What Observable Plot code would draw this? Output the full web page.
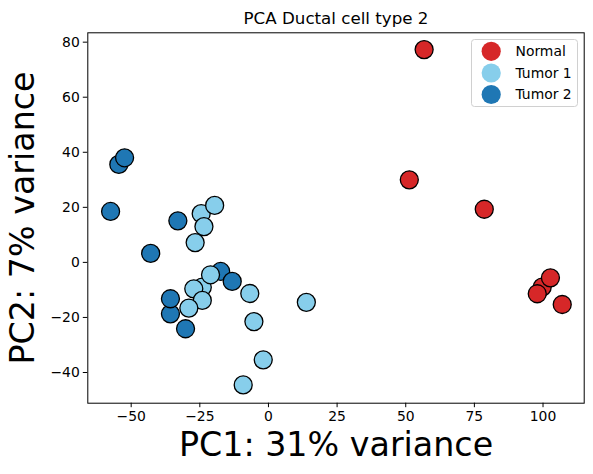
<!DOCTYPE html>
<html>
<head>
<meta charset="utf-8">
<script src="https://cdn.jsdelivr.net/npm/d3@7"></script>
<script src="https://cdn.jsdelivr.net/npm/@observablehq/plot@0.6"></script>
<style>
  html, body { margin: 0; padding: 0; background: #fff; }
  #fig { position: relative; width: 593px; height: 474px; font-family: "DejaVu Sans", sans-serif; }
  #legend { position: absolute; left: 470.5px; top: 39px; }
</style>
</head>
<body>
<div id="fig"></div>
<script>
const groups = ["Normal", "Tumor 1", "Tumor 2"];
const colors = ["#d62728", "#87ceeb", "#1f77b4"];

const normalPC1 = [56.7, 51.3, 78.6, 99.7, 102.7, 97.9, 107.0];
const normalPC2 = [77.3, 30.0, 19.3, -9.0, -5.6, -11.4, -15.3];

const tumor2PC1 = [-54.5, -52.4, -57.5, -33.0, -42.9, -17.4, -13.2, -35.7, -35.7, -30.2];
const tumor2PC2 = [35.6, 38.0, 18.5, 15.1, 3.3, -3.3, -6.9, -18.7, -13.2, -24.1];

const tumor1PC1 = [-24.5, -19.6, -23.5, -26.7, -24.1, -21.1, -27.2, -24.1, -29.0, -6.8, 13.8, -5.3, -1.9, -9.2];
const tumor1PC2 = [17.7, 20.7, 13.0, 7.2, -9.0, -4.5, -9.6, -13.8, -16.6, -11.3, -14.5, -21.5, -35.4, -44.5];

const xTicks = [-50, -25, 0, 25, 50, 75, 100];
const yTicks = [-40, -20, 0, 20, 40, 60, 80];

const titleText = "PCA Ductal cell type 2";
const xLabel = "PC1: 31% variance";
const yLabel = "PC2: 7% variance";

const rows = [];
normalPC1.forEach((v, i) => rows.push({pc1: v, pc2: normalPC2[i], group: "Normal"}));
tumor2PC1.forEach((v, i) => rows.push({pc1: v, pc2: tumor2PC2[i], group: "Tumor 2"}));
tumor1PC1.forEach((v, i) => rows.push({pc1: v, pc2: tumor1PC2[i], group: "Tumor 1"}));

const font = "DejaVu Sans, sans-serif";

const plot = Plot.plot({
  width: 593,
  height: 474,
  marginLeft: 87.3,
  marginRight: 9.3,
  marginTop: 32.3,
  marginBottom: 71.3,
  style: {fontFamily: font, fontSize: "13.9px", color: "#000", background: "#fff", overflow: "visible"},
  x: {domain: [-65.8, 115.0], ticks: xTicks},
  y: {domain: [-51.15, 83.4], ticks: yTicks},
  color: {domain: groups, range: colors},
  marks: [
    Plot.frame({stroke: "#000", strokeWidth: 1}),
    Plot.axisX({ticks: xTicks, tickSize: 4.5, tickPadding: 3.5, fontSize: 13.9, label: null, stroke: "#000"}),
    Plot.axisY({ticks: yTicks, tickSize: 4.5, tickPadding: 3.5, fontSize: 13.9, label: null, stroke: "#000"}),
    Plot.dot(rows, {x: "pc1", y: "pc2", fill: "group", r: 9, stroke: "#000", strokeWidth: 1.3}),
    Plot.text([titleText], {frameAnchor: "top", dy: -14.3, lineAnchor: "middle", textAnchor: "middle", fontSize: 16.7, fill: "#000"}),
    Plot.text([xLabel], {frameAnchor: "bottom", dy: 42, lineAnchor: "middle", textAnchor: "middle", fontSize: 33.3, fill: "#000"}),
    Plot.text([yLabel], {frameAnchor: "left", dx: -64.8, rotate: -90, lineAnchor: "middle", textAnchor: "middle", fontSize: 33.3, fill: "#000"})
  ]
});

const fig = document.getElementById("fig");
fig.appendChild(plot);

// Legend (matplotlib style)
const lw = 106, lh = 67;
const leg = d3.select(fig).append("svg")
  .attr("id", "legend")
  .attr("width", lw + 2).attr("height", lh + 2)
  .style("overflow", "visible");
leg.append("rect")
  .attr("x", 0.5).attr("y", 0.5).attr("width", lw).attr("height", lh)
  .attr("rx", 3).attr("ry", 3)
  .attr("fill", "rgba(255,255,255,0.8)").attr("stroke", "#d0d0d0").attr("stroke-width", 1);
const rowY = [12.3, 34, 55.5];
groups.forEach((g, i) => {
  leg.append("circle").attr("cx", 20.2).attr("cy", rowY[i]).attr("r", 9.6).attr("fill", colors[i]);
  leg.append("text").attr("x", 44.5).attr("y", rowY[i]).attr("dy", "0.35em")
    .attr("font-family", font).attr("font-size", 13.9).attr("fill", "#000").text(g);
});
</script>
</body>
</html>
